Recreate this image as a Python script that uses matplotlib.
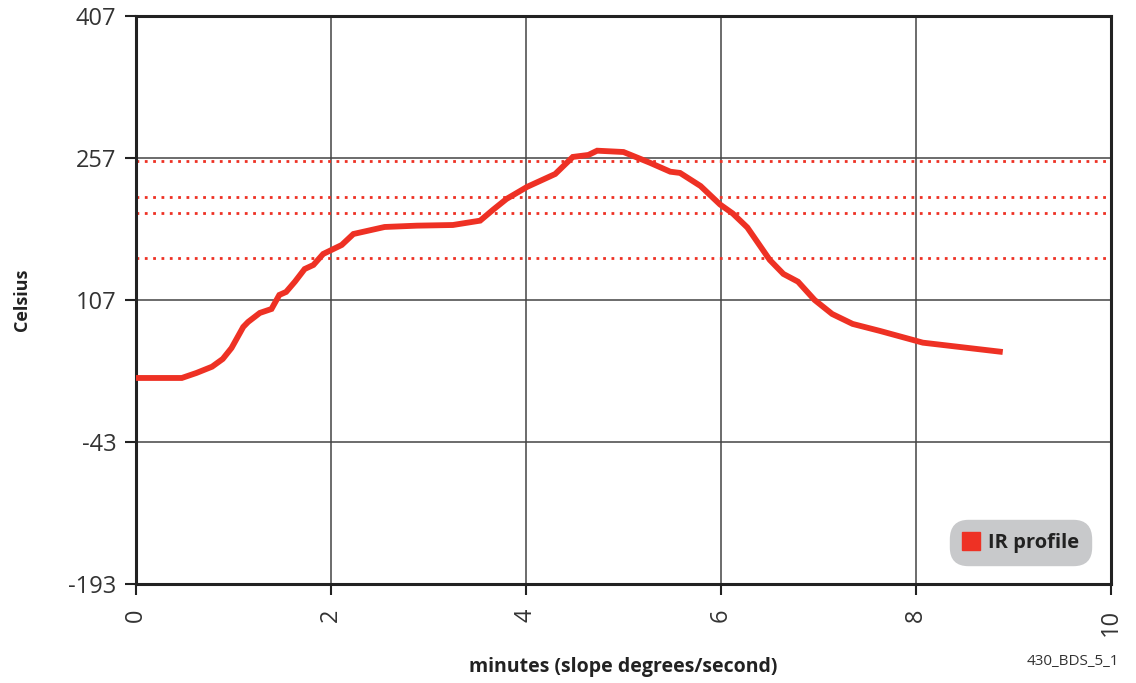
import matplotlib
matplotlib.use("Agg")
import matplotlib.pyplot as plt
from matplotlib.lines import Line2D

# IR profile curve
minutes = [0.0, 0.47, 0.62, 0.78, 0.89, 0.98, 1.10, 1.15, 1.27, 1.39, 1.47, 1.54,
           1.63, 1.73, 1.82, 1.92, 1.99, 2.11, 2.23, 2.55, 2.88, 3.25, 3.53, 3.66,
           3.80, 4.01, 4.30, 4.48, 4.64, 4.73, 5.00, 5.27, 5.48, 5.58, 5.79, 5.99,
           6.12, 6.27, 6.50, 6.64, 6.79, 6.96, 7.14, 7.35, 7.63, 8.07, 8.86]
celsius = [24.6, 24.6, 29.9, 36.5, 44.7, 56.3, 78.5, 83.8, 93.3, 97.5, 112.3, 115.5,
           126.3, 139.7, 144.0, 155.6, 159.1, 165.1, 176.7, 184.1, 185.5, 186.2, 190.8, 202.1,
           213.7, 226.4, 240.1, 258.1, 260.2, 264.7, 263.3, 252.0, 242.5, 241.2, 227.4, 207.9,
           198.4, 183.6, 149.3, 134.5, 126.3, 107.0, 92.2, 81.7, 74.3, 61.9, 52.4]

# dotted reference levels
limits = [254, 216, 199, 151]

y_ticks = [-193, -43, 107, 257, 407]
x_ticks = [0, 2, 4, 6, 8, 10]

RED = "#ee3124"
GRID = "#444444"

plt.rcParams["font.family"] = ["Open Sans", "DejaVu Sans"]
plt.rcParams["axes.unicode_minus"] = False

fig = plt.figure(figsize=(11.36, 6.83), dpi=100)
ax = fig.add_axes([0.1197, 0.145, 0.8583, 0.8316])

ax.set_xlim(0, 10)
ax.set_ylim(-193, 407)
ax.set_xticks(x_ticks)
ax.set_yticks(y_ticks)
ax.grid(True, color=GRID, linewidth=1.1)
ax.set_axisbelow(True)

for lvl in limits:
    ax.axhline(lvl, color=RED, linestyle=(0, (1, 2)), linewidth=2, zorder=2)

ax.plot(minutes, celsius, color=RED, linewidth=4.2, solid_joinstyle="miter", zorder=3)

for side in ["left", "bottom", "top", "right"]:
    ax.spines[side].set_color("#222222")
    ax.spines[side].set_linewidth(2.2)

ax.tick_params(axis="both", direction="out", length=8, width=1.5, color="#222222",
               labelsize=17, labelcolor="#333333")
ax.tick_params(axis="x", pad=10)
ax.tick_params(axis="y", pad=6)
for lab in ax.get_xticklabels():
    lab.set_rotation(90)

ax.set_ylabel("Celsius", fontsize=13, fontweight="bold", color="#222222")
ax.yaxis.set_label_coords(-0.108, 0.5)
ax.set_xlabel("minutes (slope degrees/second)", fontsize=14, fontweight="bold",
              color="#222222", labelpad=15)

handle = Line2D([], [], linestyle="none", marker="s", markersize=13, color=RED)
leg = ax.legend([handle], ["IR profile"], loc="lower right", bbox_to_anchor=(0.986, 0.022),
                frameon=True, fancybox=True, handletextpad=0.45, borderpad=0.42,
                prop={"size": 14.5, "weight": "bold"}, handlelength=0.8)
frame = leg.get_frame()
frame.set_facecolor("#c8c9cb")
frame.set_edgecolor("#c8c9cb")
frame.set_alpha(1)
frame.set_boxstyle("round", pad=0.2, rounding_size=0.9)
for t in leg.get_texts():
    t.set_color("#222222")

fig.text(0.985, 0.02, "430_BDS_5_1", ha="right", va="bottom", fontsize=11, color="#333333")

fig.savefig("out.png", dpi=100)
